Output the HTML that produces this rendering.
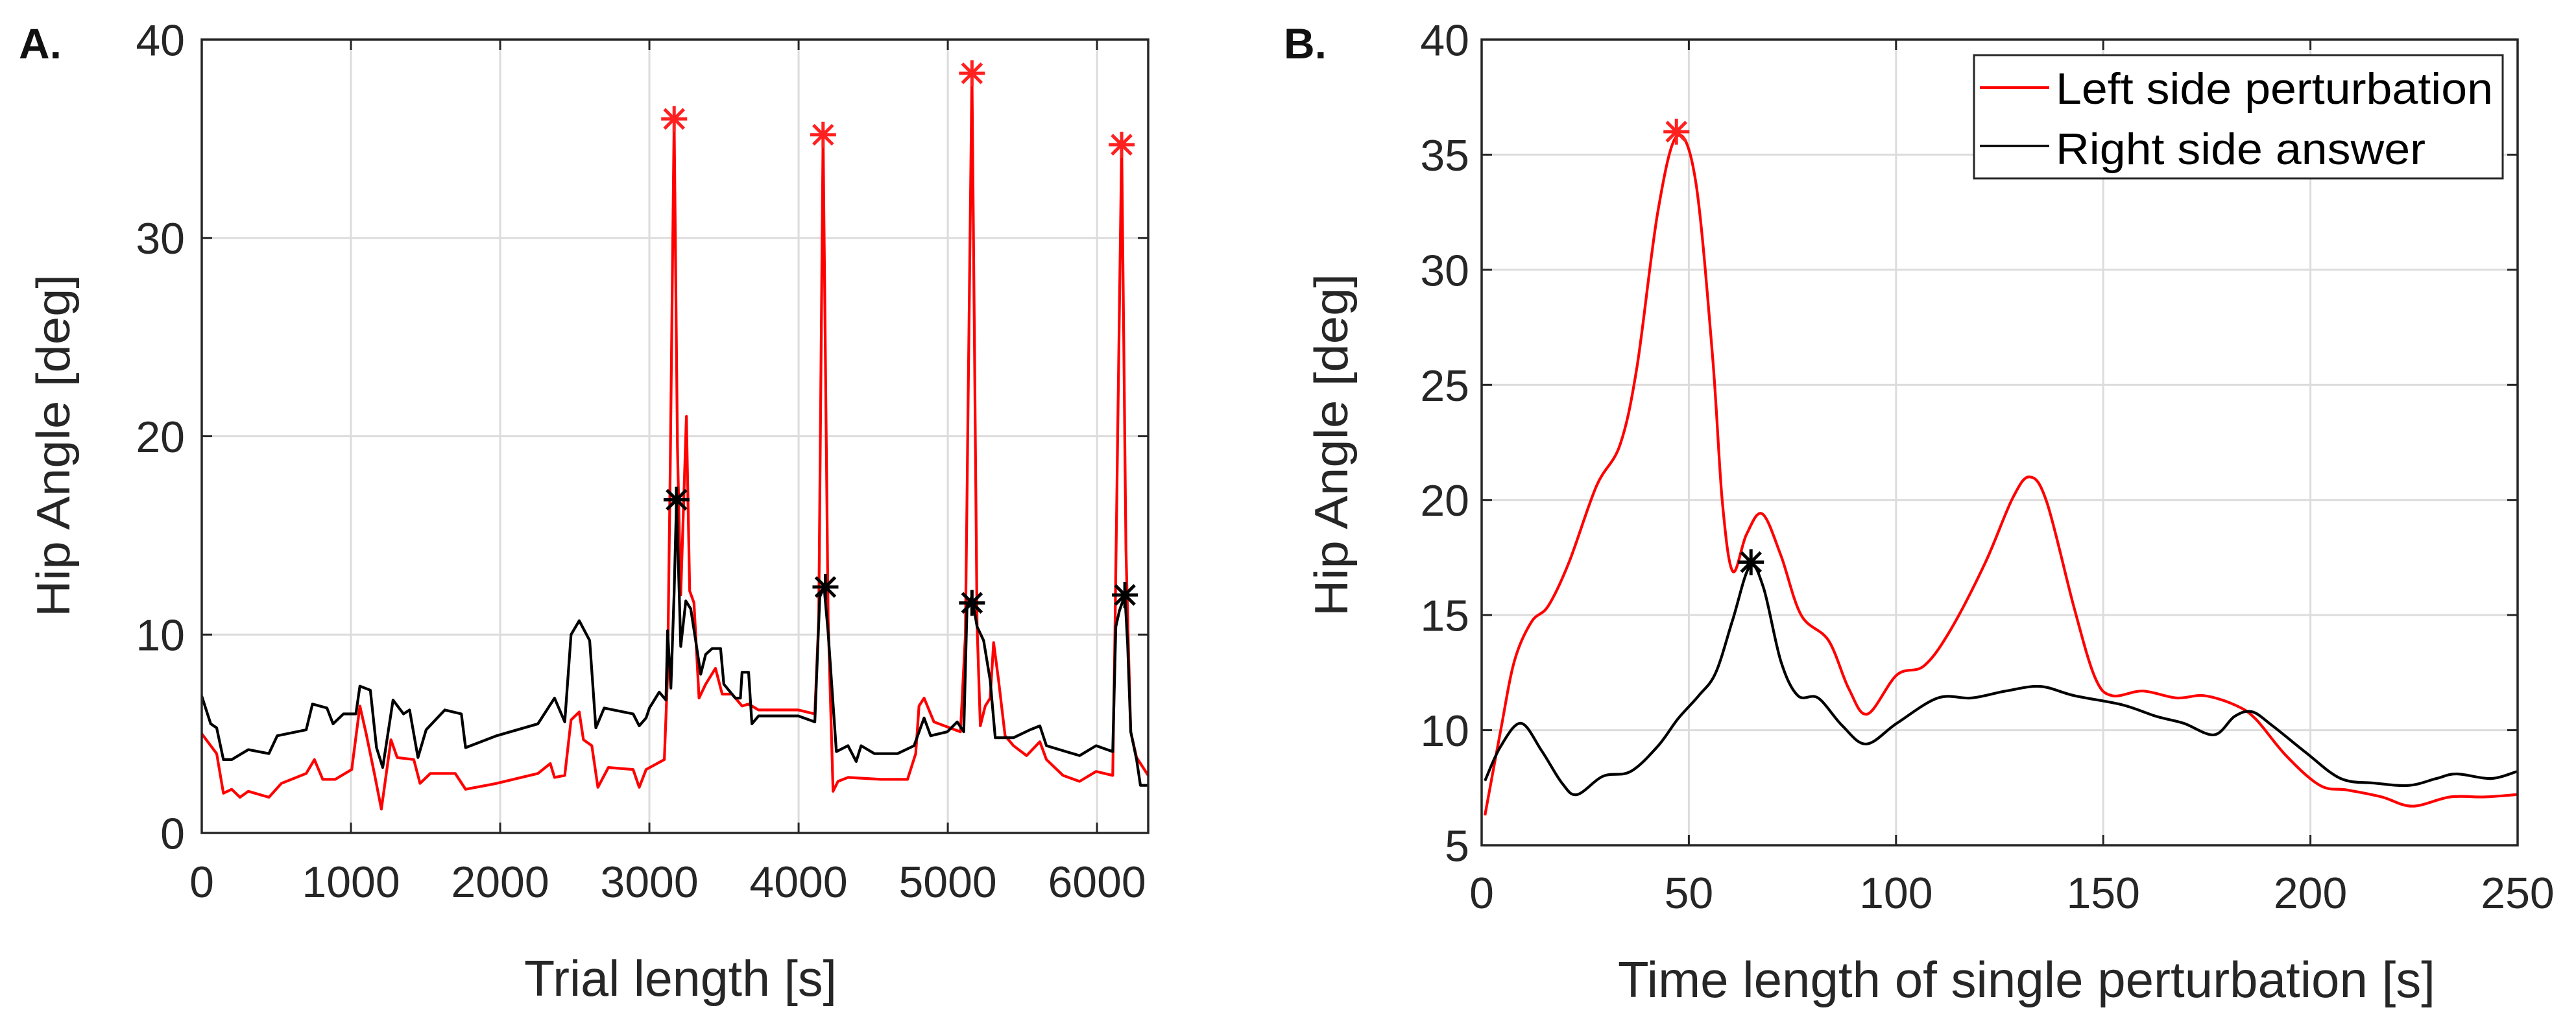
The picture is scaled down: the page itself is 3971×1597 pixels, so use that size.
<!DOCTYPE html>
<html><head><meta charset="utf-8"><style>
html,body{margin:0;padding:0;background:#fff;}
svg{display:block;font-family:"Liberation Sans",Arial,sans-serif;}
</style></head><body>
<svg id="fig" width="3971" height="1597" viewBox="0 0 3971 1597" xmlns="http://www.w3.org/2000/svg">
<defs>
<clipPath id="clipA"><rect x="311" y="61" width="1459" height="1223"/></clipPath>
<clipPath id="clipB"><rect x="2284" y="61" width="1597" height="1242"/></clipPath>
</defs>
<rect width="3971" height="1597" fill="#fff"/>
<g id="panelA"></g>
<g id="panelB"></g>
</svg>
<script>
// ---------- Panel A data ----------
const aXTicks = [0,1000,2000,3000,4000,5000,6000];
const aYTicks = [0,10,20,30,40];
const aRedT = [0,100,145,201,256,312,450,534,700,755,811,894,1005,1060,1102,1157,1204,1268,1310,1421,1463,1532,1699,1768,1976,2253,2336,2364,2433,2475,2530,2558,2614,2655,2725,2891,2932,2978,3100,3122,3140,3166,3188,3210,3248,3270,3299,3333,3377,3443,3488,3554,3621,3665,3732,3998,4109,4135,4164,4198,4231,4264,4331,4552,4730,4785,4807,4841,4907,5085,5118,5162,5196,5218,5251,5284,5307,5340,5384,5440,5528,5617,5661,5772,5883,5994,6105,6120,6165,6194,6210,6226,6265,6343];
const aRedV = [5.0,4.0,2.0,2.2,1.8,2.1,1.8,2.5,3.0,3.7,2.7,2.7,3.2,6.4,5.0,3.0,1.2,4.7,3.8,3.7,2.5,3.0,3.0,2.2,2.5,3.0,3.5,2.8,2.9,5.7,6.1,4.7,4.4,2.3,3.3,3.2,2.3,3.2,3.7,8.0,18.7,36.0,19.5,12.0,21.0,12.2,11.6,6.8,7.5,8.3,7.0,7.0,6.4,6.5,6.2,6.2,6.0,10.8,35.2,10.8,2.1,2.6,2.8,2.7,2.7,4.0,6.4,6.8,5.6,5.1,10.0,38.3,10.5,5.4,6.4,6.8,9.6,7.7,4.9,4.4,3.9,4.6,3.7,2.9,2.6,3.1,2.9,10.0,34.7,14.3,9.5,5.1,3.8,2.9];
const aBlackT = [0,60,100,145,201,312,450,506,700,742,839,880,950,1033,1060,1130,1171,1213,1282,1352,1393,1449,1504,1629,1740,1768,1976,2253,2364,2433,2475,2530,2600,2641,2697,2891,2932,2978,3000,3066,3111,3122,3144,3166,3182,3210,3244,3277,3310,3344,3377,3421,3477,3499,3576,3610,3621,3665,3687,3732,3843,3998,4109,4142,4171,4198,4253,4331,4386,4419,4508,4663,4774,4841,4885,4996,5063,5107,5129,5162,5196,5240,5284,5318,5440,5551,5617,5661,5883,5994,6105,6126,6150,6187,6205,6226,6265,6291,6343];
const aBlackV = [6.9,5.5,5.3,3.7,3.7,4.2,4.0,4.9,5.2,6.5,6.3,5.5,6.0,6.0,7.4,7.2,4.3,3.3,6.7,6.0,6.2,3.8,5.2,6.2,6.0,4.3,4.9,5.5,6.8,5.6,10.0,10.7,9.7,5.3,6.3,6.0,5.4,5.8,6.3,7.1,6.7,10.2,7.3,12.1,16.8,9.4,11.7,11.3,9.7,8.0,9.0,9.3,9.3,7.5,6.8,6.8,8.1,8.1,5.5,5.9,5.9,5.9,5.6,11.9,12.4,10.1,4.1,4.4,3.6,4.4,4.0,4.0,4.4,5.8,4.9,5.1,5.6,5.1,11.5,11.9,10.4,9.7,7.7,4.8,4.8,5.2,5.4,4.4,3.9,4.4,4.1,10.4,11.2,12.0,9.5,5.1,3.7,2.4,2.4];
const aRedStarT = [3166,4164,5162,6165];
const aRedStarV = [36.0,35.2,38.3,34.7];
const aBlackStarT = [3182,4180,5162,6187];
const aBlackStarV = [16.8,12.4,11.6,12.0];

// ---------- Panel B data ----------
const bXTicks = [0,50,100,150,200,250];
const bYTicks = [5,10,15,20,25,30,35,40];
const bRedT = [0.8,4.6,7.9,12.0,16.1,21.1,27.7,33.4,37.5,42.5,47.1,51.6,55.7,58.1,60.6,63.9,67.7,72.2,77.1,83.7,88.6,93.1,100.2,106.8,113.3,121.6,128.2,132.3,136.4,143.0,148.0,152.1,159.5,167.7,174.3,181.7,186.7,194.1,202.3,208.9,217.2,224.6,233.7,241.9,249.8];
const bRedV = [6.3,10.0,13.0,14.7,15.4,17.3,20.6,22.4,25.8,32.5,35.8,33.9,26.3,19.9,16.9,18.5,19.4,17.6,15.0,13.9,11.8,10.7,12.4,12.8,14.4,17.3,20.1,21.0,19.9,15.3,12.3,11.5,11.7,11.4,11.5,11.1,10.5,8.9,7.6,7.4,7.1,6.7,7.1,7.1,7.2];
const bBlackT = [0.8,4.6,9.5,14.5,19.4,23.0,29.3,35.9,42.5,47.4,52.4,56.5,60.6,64.7,68.0,72.2,76.3,81.2,87.0,92.8,100.2,110.1,118.3,126.5,134.8,143.0,154.6,162.8,169.4,176.8,181.7,185.9,190.8,199.1,207.3,215.5,223.8,230.4,235.3,243.5,249.8];
const bBlackV = [7.8,9.3,10.3,9.1,7.7,7.2,8.0,8.2,9.3,10.5,11.5,12.5,14.8,17.1,16.2,13.0,11.5,11.4,10.2,9.4,10.3,11.4,11.4,11.7,11.9,11.5,11.1,10.6,10.3,9.8,10.6,10.8,10.2,9.0,7.9,7.7,7.6,7.9,8.1,7.9,8.2];
const bRedStar = [47, 36.0];
const bBlackStar = [65, 17.3];

const NS = 'http://www.w3.org/2000/svg';
function mk(parent, tag, attrs, text){
  const e = document.createElementNS(NS, tag);
  for (const k in attrs) e.setAttribute(k, attrs[k]);
  if (text !== undefined) e.textContent = text;
  parent.appendChild(e);
  return e;
}
function linPath(ts, vs, sx, sy){
  let d = '';
  for (let i=0;i<ts.length;i++) d += (i?'L':'M') + sx(ts[i]).toFixed(1) + ',' + sy(vs[i]).toFixed(1);
  return d;
}
function smoothPath(ts, vs, sx, sy){
  const p = ts.map((t,i)=>[sx(t), sy(vs[i])]);
  let d = 'M'+p[0][0].toFixed(1)+','+p[0][1].toFixed(1);
  for (let i=0;i<p.length-1;i++){
    const p0=p[Math.max(0,i-1)], p1=p[i], p2=p[i+1], p3=p[Math.min(p.length-1,i+2)];
    const c1=[p1[0]+(p2[0]-p0[0])/6, p1[1]+(p2[1]-p0[1])/6];
    const c2=[p2[0]-(p3[0]-p1[0])/6, p2[1]-(p3[1]-p1[1])/6];
    d += 'C'+c1[0].toFixed(1)+','+c1[1].toFixed(1)+' '+c2[0].toFixed(1)+','+c2[1].toFixed(1)+' '+p2[0].toFixed(1)+','+p2[1].toFixed(1);
  }
  return d;
}
function star(g, x, y, color, name){
  const s = mk(g, 'g', {stroke: color, 'stroke-width': 5, fill: 'none'});
  
  
  const r = 20;
  mk(s, 'line', {x1:x-r, y1:y, x2:x+r, y2:y});
  mk(s, 'line', {x1:x, y1:y-r, x2:x, y2:y+r});
  mk(s, 'line', {x1:x-r*0.75, y1:y-r*0.75, x2:x+r*0.75, y2:y+r*0.75});
  mk(s, 'line', {x1:x-r*0.75, y1:y+r*0.75, x2:x+r*0.75, y2:y-r*0.75});
}
function axes(g, cfg){
  const {L,R,T,B,sx,sy,xt,yt,fs} = cfg;
  const grid = mk(g, 'g', {stroke:'#dcdcdc','stroke-width':3});
  
  
  xt.forEach(t=>{ mk(grid,'line',{x1:sx(t),y1:T,x2:sx(t),y2:B}); });
  yt.forEach(v=>{ mk(grid,'line',{x1:L,y1:sy(v),x2:R,y2:sy(v)}); });
  const tk = mk(g, 'g', {stroke:'#262626','stroke-width':3});
  
  
  xt.forEach(t=>{ mk(tk,'line',{x1:sx(t),y1:B,x2:sx(t),y2:B-16}); mk(tk,'line',{x1:sx(t),y1:T,x2:sx(t),y2:T+16}); });
  yt.forEach(v=>{ mk(tk,'line',{x1:L,y1:sy(v),x2:L+16,y2:sy(v)}); mk(tk,'line',{x1:R,y1:sy(v),x2:R-16,y2:sy(v)}); });
  const xl = mk(g, 'g', {fill:'#262626','font-size':fs,'text-anchor':'middle'});
  
  
  xt.forEach(t=>{ mk(xl,'text',{x:sx(t),y:cfg.xly},String(t)); });
  const yl = mk(g, 'g', {fill:'#262626','font-size':fs,'text-anchor':'end'});
  
  
  yt.forEach(v=>{ mk(yl,'text',{x:cfg.ylx,y:sy(v)+fs*0.36},String(v)); });
}
function frame(g, L,R,T,B){
  const f = mk(g,'rect',{x:L,y:T,width:R-L,height:B-T,fill:'none',stroke:'#262626','stroke-width':3.5});
  
  
}

// ----- Panel A -----
(function(){
  const g = document.getElementById('panelA');
  const L=311,R=1770,T=61,B=1284, xmax=6343, ymax=40;
  const sx = t => L + (t/xmax)*(R-L);
  const sy = v => B - (v/ymax)*(B-T);
  axes(g,{L,R,T,B,sx,sy,xt:aXTicks,yt:aYTicks,fs:68,xly:1383,ylx:285});
  const lines = mk(g,'g',{'clip-path':'url(#clipA)',fill:'none','stroke-width':4.2,'stroke-linejoin':'round'});
  const red = mk(lines,'path',{d:linPath(aRedT,aRedV,sx,sy),stroke:'#ff0000'});
  
  
  const blk = mk(lines,'path',{d:linPath(aBlackT,aBlackV,sx,sy),stroke:'#000000'});
  
  
  aRedStarT.forEach((t,i)=>star(g,sx(t),sy(aRedStarV[i]),'#ff2020','red-peak-marker'));
  aBlackStarT.forEach((t,i)=>star(g,sx(t),sy(aBlackStarV[i]),'#000','black-peak-marker'));
  frame(g,L,R,T,B);
  const lab = mk(g,'text',{x:29,y:90,'font-size':66,'font-weight':'bold',fill:'#111'},'A.');
  
  
  const xt = mk(g,'text',{x:1049,y:1535,'font-size':78,fill:'#262626','text-anchor':'middle',textLength:482,lengthAdjust:'spacingAndGlyphs'},'Trial length [s]');
  
  
  const yt = mk(g,'text',{x:0,y:0,'font-size':72,fill:'#262626','text-anchor':'middle',textLength:528,lengthAdjust:'spacingAndGlyphs',transform:'translate(107,687) rotate(-90)'},'Hip Angle [deg]');
  
  
})();

// ----- Panel B -----
(function(){
  const g = document.getElementById('panelB');
  const L=2284,R=3881,T=61,B=1303, xmin=0,xmax=250, ymin=5,ymax=40;
  const sx = t => L + ((t-xmin)/(xmax-xmin))*(R-L);
  const sy = v => B - ((v-ymin)/(ymax-ymin))*(B-T);
  axes(g,{L,R,T,B,sx,sy,xt:bXTicks,yt:bYTicks,fs:68,xly:1400,ylx:2265});
  const lines = mk(g,'g',{'clip-path':'url(#clipB)',fill:'none','stroke-width':4.2,'stroke-linejoin':'round'});
  const red = mk(lines,'path',{d:smoothPath(bRedT,bRedV,sx,sy),stroke:'#ff0000'});
  
  
  const blk = mk(lines,'path',{d:smoothPath(bBlackT,bBlackV,sx,sy),stroke:'#000000'});
  
  
  star(g,sx(bRedStar[0]),sy(bRedStar[1]),'#ff2020','red-peak-marker-b');
  star(g,sx(bBlackStar[0]),sy(bBlackStar[1]),'#000','black-peak-marker-b');
  frame(g,L,R,T,B);
  const lg = mk(g,'g',{});
  
  
  mk(lg,'rect',{x:3043,y:85,width:815,height:190,fill:'#fff',stroke:'#262626','stroke-width':3});
  const e1 = mk(lg,'g',{});
  
  
  mk(e1,'line',{x1:3052,y1:135,x2:3159,y2:135,stroke:'#ff0000','stroke-width':4});
  mk(e1,'text',{x:3169,y:160,'font-size':68,fill:'#000',textLength:674,lengthAdjust:'spacingAndGlyphs'},'Left side perturbation');
  const e2 = mk(lg,'g',{});
  
  
  mk(e2,'line',{x1:3052,y1:225,x2:3159,y2:225,stroke:'#000','stroke-width':3.5});
  mk(e2,'text',{x:3169,y:253,'font-size':68,fill:'#000',textLength:570,lengthAdjust:'spacingAndGlyphs'},'Right side answer');
  const lab = mk(g,'text',{x:1979,y:90,'font-size':66,'font-weight':'bold',fill:'#111'},'B.');
  
  
  const xt = mk(g,'text',{x:3124,y:1537,'font-size':78,fill:'#262626','text-anchor':'middle',textLength:1260,lengthAdjust:'spacingAndGlyphs'},'Time length of single perturbation [s]');
  
  
  const yt = mk(g,'text',{x:0,y:0,'font-size':72,fill:'#262626','text-anchor':'middle',textLength:528,lengthAdjust:'spacingAndGlyphs',transform:'translate(2077,686) rotate(-90)'},'Hip Angle [deg]');
  
  
})();
</script>
</body></html>
